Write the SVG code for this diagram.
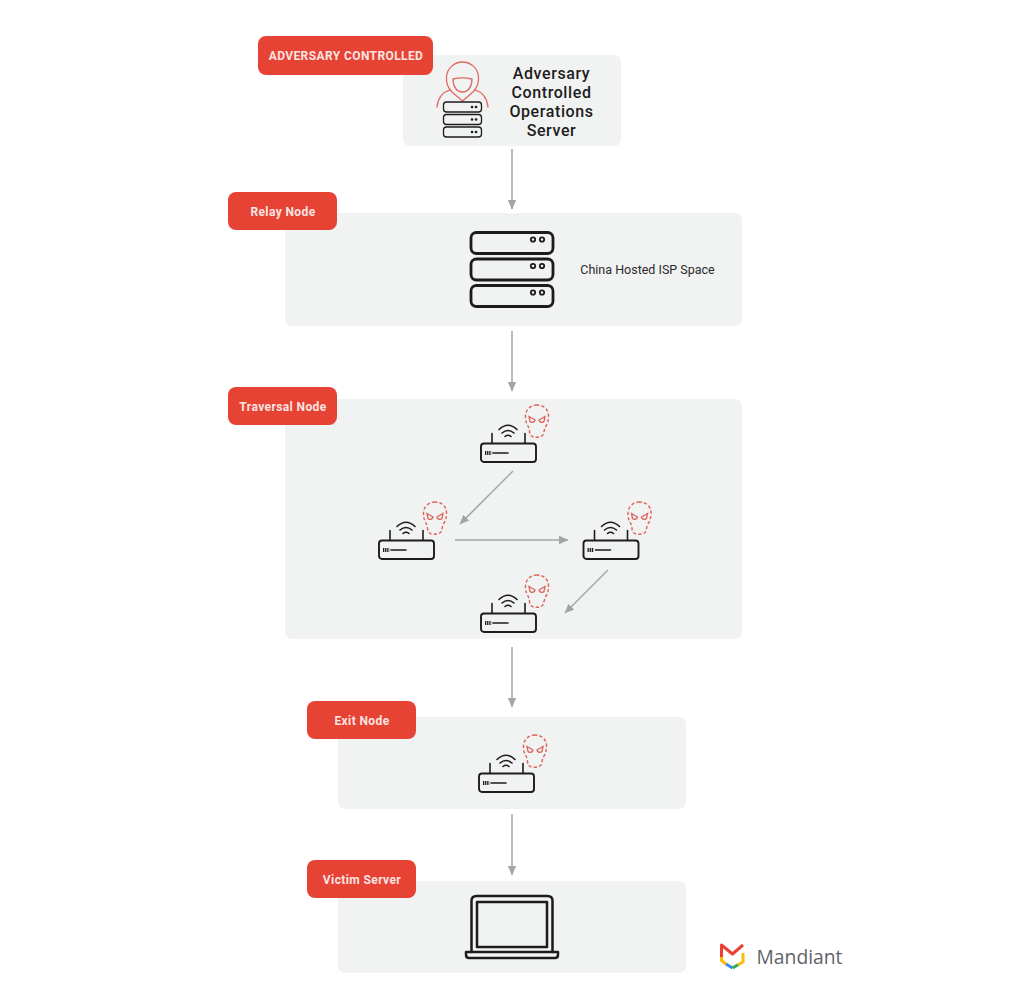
<svg xmlns="http://www.w3.org/2000/svg" xmlns:xlink="http://www.w3.org/1999/xlink" width="1024" height="1008" viewBox="0 0 1024 1008">
<style>
.panel{fill:#f1f2f2}
.tag{fill:#e64335}
.tagt{font-family:Roboto,"Liberation Sans",sans-serif;font-weight:700;font-size:12px;fill:#fbe4e1;text-anchor:middle;letter-spacing:.4px}
.head{font-family:Roboto,"Liberation Sans",sans-serif;font-weight:500;font-size:16px;fill:#1d1d1d;text-anchor:middle;letter-spacing:.6px}
.conn{stroke:#a3a6a6;stroke-width:1.5;fill:none;marker-end:url(#arr)}
.k{fill:none;stroke:#1c1c1c;stroke-linejoin:round;stroke-linecap:round}
.skull{fill:none;stroke:#e0605a;stroke-width:1.4;stroke-dasharray:3.2 2.2}
.eye{fill:none;stroke:#e0605a;stroke-width:1.3}
.hood{fill:none;stroke:#e06a60;stroke-width:1.3;stroke-linejoin:round;stroke-linecap:round}
</style>
<defs>
<marker id="arr" markerUnits="userSpaceOnUse" markerWidth="10" markerHeight="10" refX="9" refY="5" orient="auto"><path d="M0 .8L9.500 5L0 9.200z" fill="#a3a6a6"/></marker>
<g id="router">
<rect x="1" y="36.500" width="55" height="18.500" rx="3" class="k" stroke-width="1.900"/>
<path d="M12 36V26.500M45 36V26.500" class="k" stroke-width="1.600"/>
<path d="M19 22.500q9-8.500 18 0M22 26q6-5 12 0M25 29.500q3-2.500 6 0" class="k" stroke-width="1.600"/>
<path d="M5 46h6.500" stroke="#1c1c1c" stroke-width="4" stroke-dasharray="1.300 .8"/>
<path d="M13 46H28" class="k" stroke-width="1.600"/>
<path d="M57 -2c-6.500 0-11.500 5-11.500 11c0 5 1 8 2.500 10c1 2 1 3 1.500 5c0 3 1 5 3 5.500c2.500 1 6 1 8.500 0c2-1 3-2.500 3-5c.5-2 1-3.500 2-5.500c2-3 2.500-6 2.500-10.500c0-6-5-10.500-11.500-10.500z" class="skull"/>
<path d="M49 9.500l6 3.500c-.5 2.500-3.500 3-5 1.500zM65 9.500l-6 3.500c.5 2.500 3.500 3 5 1.500z" class="eye"/>
</g>
</defs>

<g id="node-operations">
<rect class="panel" x="403" y="55" width="218" height="91" rx="7"/>
<path class="hood" d="M452 92c-4-4-6-9-5.500-15c.5-9 8-15 16-15s15.500 6 16 15c.5 6-1.500 11-5.500 15l-10.500 9z"/>
<path class="hood" d="M453 79c0 8 4 13 9.500 13s9.500-5 9.500-13c-6-1.500-13-1.500-19 0z"/>
<path class="hood" d="M450 90c-7 2-12 8-13 17M475 90c7 2 12 8 13 17"/>
<g class="k" stroke-width="1.300">
<rect x="443.500" y="102" width="38" height="10" rx="3"/>
<rect x="443.500" y="114.500" width="38" height="10" rx="3"/>
<rect x="443.500" y="127" width="38" height="10" rx="3"/>
</g>
<path d="M472 107h.1M476 107h.1M472 119.500h.1M476 119.500h.1M472 132h.1M476 132h.1" stroke="#1c1c1c" stroke-width="2.600" stroke-linecap="round"/>
<text class="head"><tspan x="551.500" y="79">Adversary</tspan><tspan x="551.500" y="98">Controlled</tspan><tspan x="551.500" y="117">Operations</tspan><tspan x="551.500" y="136">Server</tspan></text>
</g>
<g id="tag-adversary"><rect class="tag" x="258" y="36" width="175" height="39" rx="8"/><text class="tagt" x="346" y="60">ADVERSARY CONTROLLED</text></g>

<g id="node-relay">
<rect class="panel" x="285" y="213" width="457" height="113" rx="7"/>
<g class="k" stroke-width="2.800">
<rect x="471" y="232.500" width="82" height="21" rx="5.500"/>
<rect x="471" y="259" width="82" height="21" rx="5.500"/>
<rect x="471" y="285.500" width="82" height="21" rx="5.500"/>
</g>
<g fill="none" stroke="#1c1c1c" stroke-width="1.800"><circle cx="533" cy="239.500" r="2.200"/><circle cx="542" cy="239.500" r="2.200"/><circle cx="533" cy="266" r="2.200"/><circle cx="542" cy="266" r="2.200"/><circle cx="533" cy="292.500" r="2.200"/><circle cx="542" cy="292.500" r="2.200"/></g>
<text x="647.500" y="274" font-family="Roboto,'Liberation Sans',sans-serif" font-size="12.500" fill="#2a2a2a" text-anchor="middle">China Hosted ISP Space</text>
</g>
<g id="tag-relay"><rect class="tag" x="228" y="192" width="109" height="38" rx="8"/><text class="tagt" x="283" y="216">Relay Node</text></g>

<g id="node-traversal">
<rect class="panel" x="285" y="399" width="457" height="240" rx="7"/>
<use xlink:href="#router" href="#router" x="480" y="407"/>
<use xlink:href="#router" href="#router" x="378" y="504"/>
<use xlink:href="#router" href="#router" x="582.500" y="504"/>
<use xlink:href="#router" href="#router" x="480" y="577"/>
</g>
<g id="tag-traversal"><rect class="tag" x="228" y="387" width="109" height="38" rx="8"/><text class="tagt" x="283" y="411">Traversal Node</text></g>

<g id="node-exit">
<rect class="panel" x="338" y="717" width="348" height="92" rx="7"/>
<use xlink:href="#router" href="#router" x="478" y="737"/>
</g>
<g id="tag-exit"><rect class="tag" x="307" y="701" width="109" height="38" rx="8"/><text class="tagt" x="362" y="725">Exit Node</text></g>

<g id="node-victim">
<rect class="panel" x="338" y="881" width="348" height="92" rx="7"/>
<g class="k" stroke-width="2.500">
<path d="M471.500 952V901q0-5 5-5h71q5 0 5 5v51"/>
<rect x="477" y="902" width="70" height="45"/>
<path d="M466 952h92v3q0 3-3 3h-86q-3 0-3-3z"/>
</g>
</g>
<g id="tag-victim"><rect class="tag" x="307" y="860" width="109" height="38" rx="8"/><text class="tagt" x="362" y="884">Victim Server</text></g>

<g id="connectors">
<line x1="512" y1="149" x2="512" y2="209" class="conn"/>
<line x1="512" y1="331" x2="512" y2="391" class="conn"/>
<line x1="513" y1="471" x2="460" y2="524" class="conn"/>
<line x1="455" y1="540" x2="568" y2="540" class="conn"/>
<line x1="608" y1="570" x2="565" y2="613" class="conn"/>
<line x1="512" y1="647" x2="512" y2="707" class="conn"/>
<line x1="512" y1="814" x2="512" y2="875" class="conn"/>
</g>

<g id="logo" fill="none" stroke-width="3">
<path d="M721.500 957V945l11 9l10.500-9" stroke="#e94235" stroke-linejoin="round"/>
<path d="M721.500 957v3.500l5 4" stroke="#fbbc05"/>
<path d="M726 964l6.500 4" stroke="#4285f4"/>
<path d="M732.500 968l6-3.500" stroke="#34a853"/>
<path d="M738 965l5-3v-9" stroke="#fbbc05"/>
<text x="756.500" y="964" font-family="'Open Sans','Noto Sans',sans-serif" font-size="19.300" fill="#5f6368" stroke="none">Mandiant</text>
</g>
</svg>
